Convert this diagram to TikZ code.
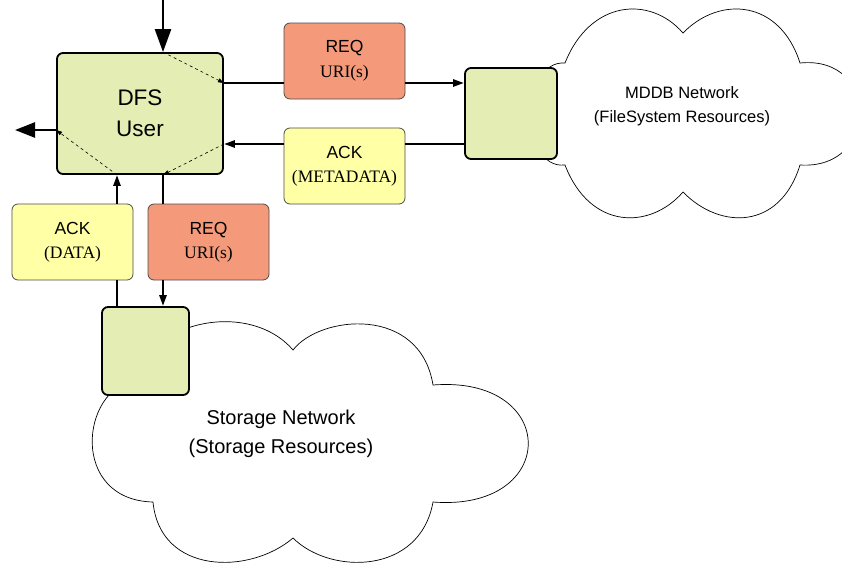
\documentclass[tikz,border=0pt]{standalone}
\usepackage{fontspec}
\setmainfont{Liberation Serif}
\setsansfont{Liberation Sans}
\usetikzlibrary{arrows.meta}
\definecolor{gategreen}{RGB}{228,237,180}
\definecolor{reqred}{RGB}{244,154,122}
\definecolor{ackyellow}{RGB}{255,255,166}
\tikzset{
  gate/.style={draw, line width=1.8pt, rounded corners=6pt, fill=gategreen},
  msg/.style={draw=black!70, line width=0.8pt, rounded corners=6pt, minimum width=121pt,
    minimum height=76pt, align=center, inner sep=0pt, font=\fontsize{17.5}{24.5}\selectfont},
  link/.style={line width=2.5pt},
  hint/.style={line width=0.6pt, dashed, -{Triangle[length=6pt,width=4pt]}},
  cloudline/.style={line width=0.7pt},
}
\newcommand{\msgtext}[2]{\sffamily #1\\\rmfamily #2}
\begin{document}
\begin{tikzpicture}[x=1pt, y=-1pt, >={Triangle[length=11pt,width=7pt]}]
\useasboundingbox (0,0) rectangle (842,565);
\coordinate (in) at (163,0);
\coordinate (out) at (15,130);
\coordinate (reqrow) at (0,83);
\coordinate (ackrow) at (0,144);
\coordinate (ackcol) at (117,0);
\coordinate (reqcol) at (163,0);

% clouds
\draw[cloudline] (565,63) .. controls (590,0) and (650,-5) .. (683,33)
  .. controls (720,-5) and (780,0) .. (800,63)
  .. controls (880,55) and (880,170) .. (800,165)
  .. controls (780,230) and (720,230) .. (683,192)
  .. controls (650,230) and (590,230) .. (565,165)
  .. controls (520,170) and (520,60) .. cycle;
\draw[cloudline] (135,380) .. controls (150,320) and (250,300) .. (293,350)
  .. controls (320,315) and (420,305) .. (433,385)
  .. controls (560,375) and (560,512) .. (433,502)
  .. controls (420,575) and (330,575) .. (293,538)
  .. controls (250,575) and (160,575) .. (153,502)
  .. controls (70,500) and (80,390) .. cycle;
\node[align=center, font=\sffamily\fontsize{16.5}{24}\selectfont] (mddbtxt) at (682,106)
  {MDDB Network\\(FileSystem Resources)};
\node[align=center, font=\sffamily\fontsize{20}{29}\selectfont] (storetxt) at (281,434)
  {Storage Network\\(Storage Resources)};

% boxes
\node[gate, minimum width=166pt, minimum height=121pt, align=center,
  font=\sffamily\fontsize{22.5}{31}\selectfont] (user) at (140,113.5) {DFS\\User};
\node[gate, minimum width=92pt, minimum height=91pt] (mddb) at (511,113.5) {};
\node[gate, minimum width=87pt, minimum height=88pt] (storage) at (145.5,351) {};
\node[msg, fill=reqred] (reqtop) at (344.5,61) {\msgtext{REQ}{URI(s)}};
\node[msg, fill=ackyellow] (ackmeta) at (344.5,166) {\msgtext{ACK}{(METADATA)}};
\node[msg, fill=ackyellow] (ackdata) at (72.5,242) {\msgtext{ACK}{(DATA)}};
\node[msg, fill=reqred] (reqlow) at (208.5,242) {\msgtext{REQ}{URI(s)}};

% connectors
\draw[link, -{Triangle[length=23pt,width=16pt]}] (in) -- (in |- user.north);
\draw[link, -{Triangle[length=20pt,width=15pt]}] (user.west |- out) -- (out);
\draw[link] (user.east |- reqrow) -- (reqtop.west |- reqrow);
\draw[link, ->] (reqtop.east |- reqrow) -- (mddb.west |- reqrow);
\draw[link] (mddb.west |- ackrow) -- (ackmeta.east |- ackrow);
\draw[link, ->] (ackmeta.west |- ackrow) -- (user.east |- ackrow);
\draw[link] (storage.north -| ackcol) -- (ackdata.south -| ackcol);
\draw[link, ->] (ackdata.north -| ackcol) -- (user.south -| ackcol);
\draw[link] (user.south -| reqcol) -- (reqlow.north -| reqcol);
\draw[link, ->] (reqlow.south -| reqcol) -- (storage.north -| reqcol);
\draw[hint] (user.north -| in) -- (user.east |- reqrow);
\draw[hint] (user.south -| ackcol) -- (user.west |- out);
\draw[hint] (user.east |- ackrow) -- (user.south -| reqcol);
\end{tikzpicture}
\end{document}
